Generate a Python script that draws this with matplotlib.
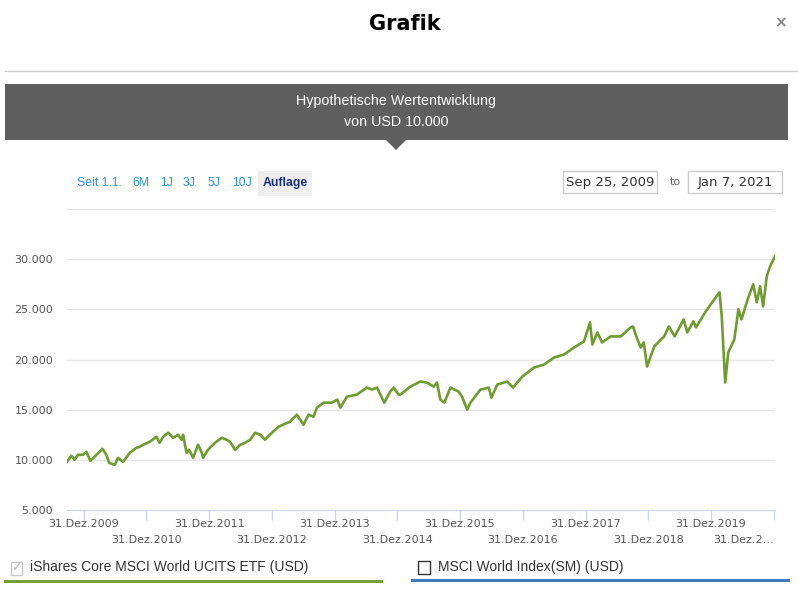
import numpy as np
import pandas as pd
import matplotlib
matplotlib.use('Agg')
import matplotlib.pyplot as plt
from matplotlib.patches import Rectangle, Polygon
from matplotlib.transforms import blended_transform_factory

plt.rcParams["font.family"] = ["DejaVu Sans"]

W, H = 798, 612

# hypothetical growth of USD 10.000
dates = [
    '2009-09-25', '2009-09-29', '2009-10-20', '2009-11-08', '2009-11-28', '2009-12-27',
    '2010-01-16', '2010-02-08', '2010-03-15', '2010-04-19', '2010-05-12', '2010-05-28',
    '2010-06-30', '2010-07-19', '2010-08-17', '2010-09-26', '2010-11-03', '2010-11-23',
    '2010-12-12', '2011-01-20', '2011-02-28', '2011-03-18', '2011-04-08', '2011-05-07',
    '2011-06-05', '2011-07-04', '2011-07-24', '2011-08-02', '2011-08-22', '2011-09-06',
    '2011-09-29', '2011-10-28', '2011-11-17', '2011-11-26', '2011-12-25', '2012-02-04',
    '2012-03-14', '2012-04-12', '2012-05-01', '2012-05-31', '2012-06-29', '2012-07-28',
    '2012-08-26', '2012-09-24', '2012-10-24', '2012-11-21', '2012-12-31', '2013-02-08',
    '2013-03-18', '2013-04-16', '2013-05-25', '2013-07-03', '2013-08-01', '2013-08-30',
    '2013-09-19', '2013-10-28',
    '2013-12-15', '2014-01-15', '2014-02-03', '2014-03-13', '2014-05-10', '2014-07-07',
    '2014-08-06', '2014-09-04', '2014-10-16', '2014-11-20', '2014-12-10', '2015-01-08',
    '2015-01-18', '2015-03-17', '2015-05-14', '2015-06-22', '2015-07-31', '2015-08-19',
    '2015-09-08', '2015-10-01', '2015-11-05', '2015-12-23', '2016-01-12', '2016-02-11',
    '2016-03-01', '2016-04-28', '2016-06-16', '2016-07-01', '2016-08-04', '2016-10-01',
    '2016-11-04', '2016-12-28', '2017-03-06', '2017-05-04', '2017-07-01', '2017-08-28',
    '2017-10-25', '2017-12-22', '2018-01-26', '2018-02-09', '2018-03-10', '2018-04-06',
    '2018-05-26', '2018-07-24', '2018-09-20', '2018-10-03', '2018-10-29', '2018-11-17',
    '2018-12-05', '2018-12-24', '2019-02-04', '2019-04-03', '2019-04-30', '2019-06-03',
    '2019-07-25', '2019-08-15', '2019-09-20', '2019-10-05', '2019-12-01', '2020-01-20',
    '2020-02-19', '2020-03-03', '2020-03-23', '2020-04-10', '2020-05-15', '2020-06-08',
    '2020-06-26', '2020-08-01', '2020-09-02', '2020-09-23', '2020-10-12', '2020-10-30',
    '2020-11-20', '2020-12-10', '2021-01-07',
]
values = [
    9800, 9900, 10400, 10000, 10500, 10500,
    10800, 9900, 10500, 11100, 10500, 9700,
    9500, 10200, 9800, 10700, 11200, 11300,
    11500, 11800, 12300, 11700, 12300, 12700,
    12200, 12500, 12000, 12500, 10700, 11000,
    10200, 11500, 10800, 10200, 11000, 11700,
    12200, 12000, 11800, 11000, 11500, 11700,
    12000, 12700, 12500, 12000, 12700, 13300,
    13600, 13800, 14500, 13500, 14500, 14300,
    15200, 15700,
    15700, 16000, 15200, 16300, 16500, 17200,
    17000, 17200, 15700, 16800, 17200, 16500,
    16500, 17300, 17800, 17700, 17300, 17700,
    16000, 15700, 17200, 16800, 16300, 15000,
    15700, 17000, 17200, 16200, 17500, 17800,
    17200, 18300, 19200, 19500, 20200, 20500,
    21200, 21800, 23700, 21500, 22700, 21700,
    22300, 22300, 23200, 23300, 22000, 21200,
    21700, 19300, 21300, 22300, 23300, 22300,
    24000, 22700, 23800, 23200, 24800, 26000,
    26700, 24300, 17700, 20700, 22000, 25000,
    24000, 26000, 27500, 25700, 27300, 25300,
    28300, 29300, 30300,
]
y_ticks = [5000, 10000, 15000, 20000, 25000, 30000, 35000]
tick_years = list(range(2009, 2021))
periods = ['Seit 1.1.', '6M', '1J', '3J', '5J', '10J']
series_names = ['iShares Core MSCI World UCITS ETF (USD)', 'MSCI World Index(SM) (USD)']
start_label, end_label = 'Sep 25, 2009', 'Jan 7, 2021'

dates = pd.to_datetime(dates)


def fx(x):
    return x / W


def fy(y):
    return 1 - y / H


fig = plt.figure(figsize=(W / 100, H / 100), dpi=100)
fig.patch.set_facecolor('white')

# header
fig.text(fx(405), fy(24), 'Grafik', ha='center', va='center', fontsize=15, fontweight='bold', color='black')
fig.text(fx(780), fy(23), '×', ha='center', va='center', fontsize=11, fontweight='bold', color='#888888')
fig.add_artist(plt.Line2D([fx(5), fx(798)], [fy(71), fy(71)], color='#cccccc', lw=1))

# banner
fig.add_artist(Rectangle((fx(5), fy(140)), fx(783), 56 / H, transform=fig.transFigure,
                         facecolor='#5f5f5f', edgecolor='none'))
fig.add_artist(Polygon([[fx(386), fy(140)], [fx(406), fy(140)], [fx(396), fy(150)]],
                       closed=True, transform=fig.transFigure, facecolor='#5f5f5f', edgecolor='none'))
fig.text(fx(396), fy(101), 'Hypothetische Wertentwicklung', ha='center', va='center',
         fontsize=10.3, color='white', family='Liberation Sans')
fig.text(fx(396), fy(122), 'von USD 10.000', ha='center', va='center',
         fontsize=10.3, color='white', family='Liberation Sans')

# period buttons
btn_x = [77, 132, 160, 183, 207, 232]
for label, x in zip(periods, btn_x):
    fig.text(fx(x), fy(183), label, ha='left', va='center', fontsize=8.8,
             color='#2e95de', family='Liberation Sans')
fig.add_artist(Rectangle((fx(258), fy(196)), 54 / W, 25 / H, transform=fig.transFigure,
                         facecolor='#eeeeee', edgecolor='none'))
fig.text(fx(285), fy(183), 'Auflage', ha='center', va='center', fontsize=8.8,
         fontweight='bold', color='#1a2f7a', family='Liberation Sans')

# date range boxes
for (x0, x1), txt in zip([(563, 657), (688, 782)], [start_label, end_label]):
    fig.add_artist(Rectangle((fx(x0), fy(193)), (x1 - x0) / W, 22 / H, transform=fig.transFigure,
                             facecolor='white', edgecolor='#cccccc', lw=1))
    fig.text(fx((x0 + x1) / 2), fy(182), txt, ha='center', va='center', fontsize=9.5, color='#333333')
fig.text(fx(675), fy(182), 'to', ha='center', va='center', fontsize=8, color='#666666')

# chart
ax = fig.add_axes([fx(67), fy(510), (775 - 67) / W, (510 - 209) / H])
ax.plot(dates, values, color='#6f9b30', lw=1.9, solid_joinstyle='round')
ax.set_xlim(pd.Timestamp('2009-09-25'), pd.Timestamp('2021-01-07'))
ax.set_ylim(5000, 35000)
ax.set_yticks(y_ticks)
ax.set_yticklabels([f'{v:,}'.replace(',', '.') if v < 35000 else '' for v in y_ticks])
ax.tick_params(axis='y', length=0, pad=10, labelsize=8, labelcolor='#555555')
ax.yaxis.grid(True, color='#e6e6e6', lw=1)
ax.set_axisbelow(True)
for s in ['top', 'right', 'left']:
    ax.spines[s].set_visible(False)
ax.spines['bottom'].set_color('#ccd6eb')

tick_dates = pd.to_datetime([f'{y}-12-31' for y in tick_years])
ax.set_xticks(tick_dates)
ax.tick_params(axis='x', length=7.5, width=1, color='#ccd6eb', labelbottom=False)
trans = blended_transform_factory(ax.transData, ax.transAxes)
for i, (d, y) in enumerate(zip(tick_dates, tick_years)):
    row = i % 2
    ypos = -(14 if row == 0 else 30) / (510 - 209)
    if y == tick_years[-1]:
        ax.text(d, ypos, f'31.Dez.{str(y)[:1]}…', transform=trans, ha='right', va='center',
                fontsize=8, color='#555555')
    else:
        ax.text(d, ypos, f'31.Dez.{y}', transform=trans, ha='center', va='center',
                fontsize=8, color='#555555')

# series selectors
fig.add_artist(Rectangle((fx(11), fy(575)), 11 / W, 13 / H, transform=fig.transFigure,
                         facecolor='white', edgecolor='#c8c8c8', lw=1))
fig.text(fx(16.5), fy(568), '✓', ha='center', va='center', fontsize=9, color='#bbbbbb')
fig.text(fx(30), fy(567), series_names[0], ha='left', va='center', fontsize=10,
         color='#333333', family='Liberation Sans')
fig.add_artist(plt.Line2D([fx(5), fx(381)], [fy(581), fy(581)], color='#76a13a', lw=2.2))

fig.add_artist(Rectangle((fx(418), fy(574)), 12 / W, 13 / H, transform=fig.transFigure,
                         facecolor='white', edgecolor='#333333', lw=1))
fig.text(fx(438), fy(567), series_names[1], ha='left', va='center', fontsize=10,
         color='#333333', family='Liberation Sans')
fig.add_artist(plt.Line2D([fx(412), fx(788)], [fy(580), fy(580)], color='#3d7cc0', lw=2.2))

fig.savefig('out.png', dpi=100)
